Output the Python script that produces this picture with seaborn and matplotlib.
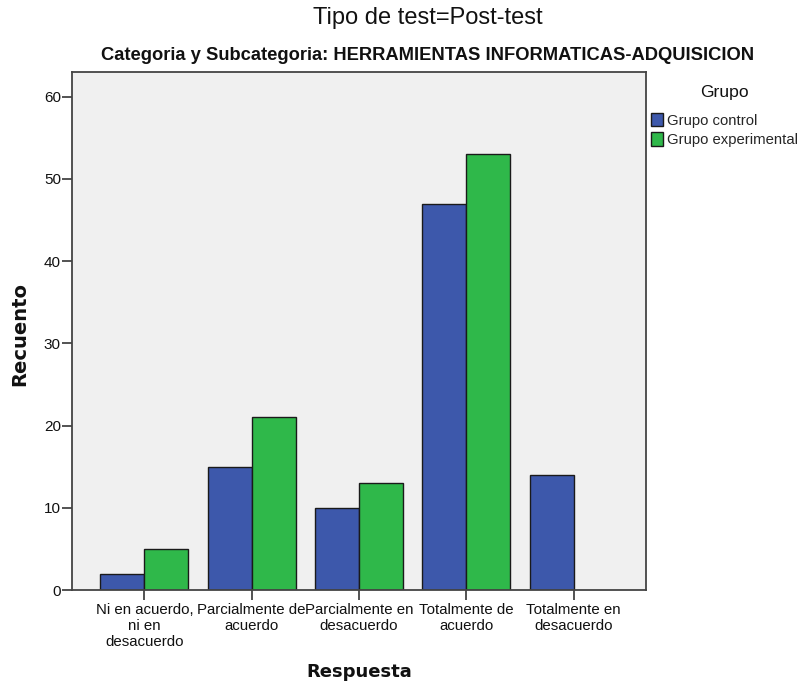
import matplotlib
matplotlib.use("Agg")
import matplotlib.pyplot as plt
import seaborn as sns
import pandas as pd

respuestas = [
    "Ni en acuerdo,\nni en\ndesacuerdo",
    "Parcialmente de\nacuerdo",
    "Parcialmente en\ndesacuerdo",
    "Totalmente de\nacuerdo",
    "Totalmente en\ndesacuerdo",
]
grupos = ["Grupo control", "Grupo experimental"]
recuento_control = [2, 15, 10, 47, 14]
recuento_experimental = [5, 21, 13, 53, None]

colores = {"Grupo control": "#3D58AB", "Grupo experimental": "#2FB84A"}

filas = []
for r, c, e in zip(respuestas, recuento_control, recuento_experimental):
    filas.append({"Respuesta": r, "Grupo": grupos[0], "Recuento": c})
    if e is not None:
        filas.append({"Respuesta": r, "Grupo": grupos[1], "Recuento": e})
df = pd.DataFrame(filas)

sns.set_theme(style="white")
plt.rcParams["font.family"] = ["Liberation Sans", "DejaVu Sans"]

W, H = 801, 688
fig = plt.figure(figsize=(W / 100, H / 100), dpi=100)
ax = fig.add_axes([72 / W, 1 - 590 / H, (646 - 72) / W, (590 - 72) / H])
ax.set_facecolor("#F0F0F0")

sns.barplot(
    data=df, x="Respuesta", y="Recuento", hue="Grupo",
    order=respuestas, hue_order=grupos, palette=colores,
    width=0.82, edgecolor="#1a1a1a", linewidth=1.0,
    errorbar=None, ax=ax, saturation=1,
)

ax.set_xlim(-0.675, 4.675)
ax.set_ylim(0, 63)
ax.set_yticks([0, 10, 20, 30, 40, 50, 60])
for s in ax.spines.values():
    s.set_color("#444444")
    s.set_linewidth(1.3)
ax.tick_params(axis="y", direction="out", length=7, width=1.3, color="#444444",
               labelsize=11, pad=1, left=True, labelcolor="#111111")
ax.tick_params(axis="x", direction="out", length=7, width=1.3, color="#444444",
               labelsize=10.8, pad=2, bottom=True, labelcolor="#111111")
for lab in ax.get_xticklabels():
    lab.set_horizontalalignment("center")
    lab.set_multialignment("center")
    lab.set_linespacing(1.2)

ax.set_xlabel("")
ax.set_ylabel("")
fig.text(359 / W, 1 - 672 / H, "Respuesta", ha="center", va="center",
         fontsize=13, fontweight="bold", family="DejaVu Sans", color="#111111")
fig.text(20 / W, 1 - 334 / H, "Recuento", ha="center", va="center", rotation=90,
         fontsize=14, fontweight="bold", family="DejaVu Sans", color="#111111")

leg = ax.legend(
    loc="upper left", bbox_to_anchor=(0.999, 0.932),
    frameon=False, fontsize=10.7,
    handlelength=0.75, handleheight=1.0, handletextpad=0.3,
    borderaxespad=0.0, labelspacing=0.3,
)
for h in leg.legend_handles:
    h.set_edgecolor("#1a1a1a")
    h.set_linewidth(1.0)
fig.text(724.5 / W, 1 - 93 / H, "Grupo", ha="center", va="center",
         fontsize=12.6, color="#111111")

fig.text(428 / W, 1 - 18 / H, "Tipo de test=Post-test", ha="center", va="center",
         fontsize=17, color="#111111")
fig.text(428 / W, 1 - 56 / H,
         "Categoria y Subcategoria: HERRAMIENTAS INFORMATICAS-ADQUISICION",
         ha="center", va="center", fontsize=13.2, fontweight="bold", color="#111111")

fig.savefig("out.png", dpi=100)
